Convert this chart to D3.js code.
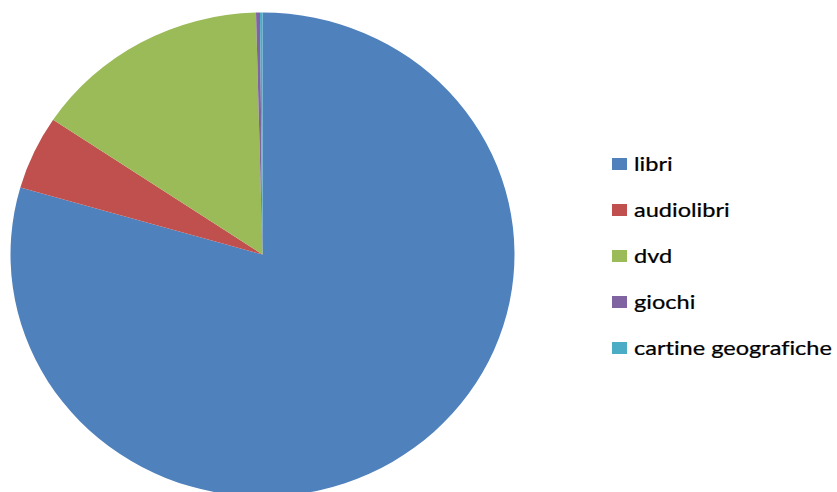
<!DOCTYPE html>
<html>
<head>
<meta charset="utf-8">
<script src="https://cdn.jsdelivr.net/npm/d3@7"></script>
<style>
  body { margin: 0; background: #fff; }
  svg { display: block; }
  .legend text { font-variant-ligatures: none; }
</style>
</head>
<body>
<svg id="chart" width="837" height="492"></svg>
<script>
// categories and values (share of items)
const categories = ['libri', 'audiolibri', 'dvd', 'giochi', 'cartine geografiche'];
const values = [79.46, 4.93, 15.20, 0.25, 0.16];
const colors = ['#4F81BD', '#C0504D', '#9BBB59', '#8064A2', '#4BACC6'];

const width = 837, height = 492;
const cx = 262.5, cy = 254.5;
const radius = 252;
const yStretch = 242 / 252; // the original pie is slightly squashed vertically

const svg = d3.select('#chart');

const data = categories.map((c, i) => ({ name: c, value: values[i] }));

const pie = d3.pie()
    .sort(null)
    .value(d => d.value);

const arc = d3.arc()
    .innerRadius(0)
    .outerRadius(radius);

const color = d3.scaleOrdinal()
    .domain(categories)
    .range(colors);

const g = svg.append('g')
    .attr('transform', `translate(${cx},${cy}) scale(1,${yStretch})`);

g.selectAll('path')
    .data(pie(data))
    .enter()
    .append('path')
    .attr('d', arc)
    .attr('fill', d => color(d.data.name));

// legend
const legendY = d3.scalePoint()
    .domain(categories)
    .range([164, 348]);

const legend = svg.append('g')
    .attr('class', 'legend');

const item = legend.selectAll('g')
    .data(categories)
    .enter()
    .append('g')
    .attr('transform', d => `translate(612,${legendY(d)})`);

item.append('rect')
    .attr('x', 0)
    .attr('y', -6)
    .attr('width', 15)
    .attr('height', 12)
    .attr('fill', d => color(d));

const labels = item.append('g')
    .attr('transform', 'translate(22,0)')
    .append('text')
    .attr('x', 0)
    .attr('y', 0)
    .attr('dy', '0.36em')
    .attr('font-family', 'Lato, "Open Sans", sans-serif')
    .attr('font-size', 20)
    .attr('fill', '#000')
    .attr('stroke', '#000')
    .attr('stroke-width', 0.25)
    .text(d => d);

// the original legend font runs wider; stretch so the longest label spans ~198px
const longest = d3.max(labels.nodes(), n => n.getComputedTextLength());
const sx = 198 / longest;
labels.attr('transform', `scale(${sx},1)`);
</script>
</body>
</html>
